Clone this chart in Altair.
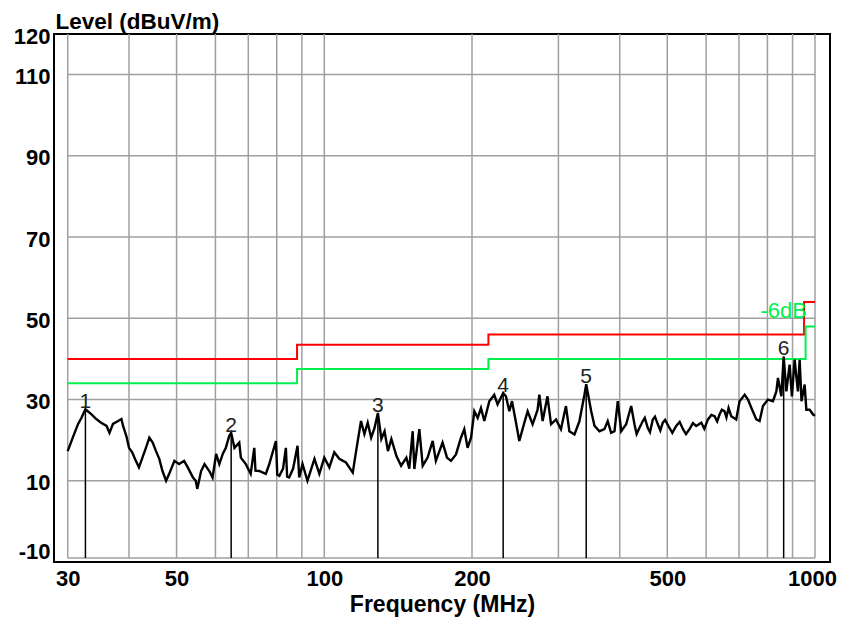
import altair as alt
import pandas as pd

# ---- data ----
FREQ = [30.0, 30.8, 31.5, 32.0, 32.6, 33.5, 34.3, 35.1, 36.0, 36.5, 37.1, 38.0, 38.6, 38.9, 39.5,
        40.0, 40.6, 41.3, 41.9, 42.6, 43.3, 44.0, 44.7, 45.4, 46.1, 46.8, 47.6, 48.3, 49.5, 50.6,
        51.8, 52.7, 54.0, 54.7, 55.1, 56.1, 57.0, 58.3, 59.2, 60.2, 61.1, 62.1, 63.0, 64.0, 64.6,
        65.6, 67.1, 67.6, 69.2, 70.8, 72.0, 72.4, 73.7, 76.0, 77.2, 79.7, 80.2, 81.0, 82.4, 83.5,
        84.0, 84.8, 86.4, 88.2, 88.9, 90.3, 92.4, 94.1, 95.5, 97.7, 100.0, 102.4, 104.8, 107.3,
        110.7, 114.3, 116.1, 118.8, 120.7, 122.6, 124.6, 126.6, 128.6, 130.7, 132.7, 134.8, 137.0,
        140.3, 143.4, 147.0, 149.0, 151.4, 152.6, 156.2, 158.7, 162.4, 166.3, 168.8, 174.2, 177.1,
        177.8, 181.2, 185.5, 189.9, 192.9, 195.9, 199.1, 202.2, 205.4, 208.6, 211.9, 216.9, 222.0,
        225.5, 231.5, 234.5, 238.3, 241.3, 245.9, 249.7, 255.7, 259.7, 265.8, 272.1, 274.3, 278.6,
        285.0, 289.8, 296.6, 303.6, 310.8, 315.8, 323.5, 331.1, 339.0, 341.8, 349.9, 355.4, 363.7,
        372.3, 378.1, 384.2, 390.3, 396.4, 402.8, 412.3, 422.1, 428.7, 433.0, 437.5, 445.8, 450.0,
        456.4, 461.0, 467.2, 472.0, 478.3, 484.0, 489.6, 495.0, 505.2, 512.0, 521.4, 530.0, 538.2,
        546.0, 555.0, 564.0, 572.7, 586.5, 595.0, 605.2, 615.0, 624.3, 632.0, 638.9, 646.0, 654.1,
        660.0, 666.6, 675.1, 690.9, 701.9, 719.0, 730.2, 742.1, 759.3, 771.2, 783.3, 801.9, 821.0,
        834.2, 840.5, 854.0, 863.3, 874.3, 887.7, 897.4, 908.8, 923.0, 930.5, 938.7, 952.6, 960.3,
        975.3, 991.3, 1000.0]
LEVEL = [17.3, 21.0, 24.0, 25.5, 27.6, 26.4, 25.2, 24.3, 23.5, 21.8, 24.0, 24.7, 25.2, 23.5, 21.0,
         18.1, 17.0, 14.9, 13.3, 15.7, 18.1, 20.6, 19.4, 17.3, 15.4, 12.4, 10.0, 11.7, 14.9, 14.1,
         14.9, 13.3, 10.8, 10.0, 8.0, 12.4, 14.1, 12.4, 10.8, 16.6, 14.1, 16.6, 18.1, 21.0, 21.8,
         18.1, 19.4, 15.7, 14.1, 11.7, 18.1, 12.5, 12.4, 11.7, 14.0, 19.8, 11.5, 11.2, 13.0, 18.1,
         11.0, 10.8, 13.0, 18.6, 10.8, 14.1, 10.0, 13.0, 15.4, 11.7, 15.7, 13.3, 17.0, 15.4,
         14.5, 12.0, 17.3, 24.7, 21.5, 24.3, 20.6, 23.0, 26.7, 20.3, 22.2, 17.3, 20.3,
         16.1, 13.7, 15.7, 13.0, 22.2, 12.9, 22.7, 13.7, 15.7, 19.8, 14.9, 19.4, 16.5,
         15.7, 14.9, 16.5, 20.6, 22.7, 18.1, 20.6, 27.1, 25.5, 27.9, 24.7, 29.6, 31.2,
         28.8, 31.6, 30.8, 27.1, 29.6, 24.3, 19.8, 24.3, 27.1, 23.9, 27.5, 31.2, 24.7,
         30.8, 23.9, 25.1, 22.7, 28.4, 22.2, 21.4, 24.7, 31.2, 33.8, 27.1, 23.5, 22.2,
         22.7, 24.7, 21.8, 22.2, 29.6, 22.2, 23.9, 28.4, 23.9, 21.5, 22.7, 24.7, 25.5,
         23.0, 22.0, 25.1, 25.8, 23.9, 22.4, 24.3, 25.0, 23.0, 21.8, 23.5, 24.5, 22.7,
         21.5, 22.7, 24.2, 23.5, 24.3, 22.8, 25.1, 26.2, 25.9, 24.6, 26.3, 27.5, 27.1,
         25.6, 27.9, 25.9, 25.1, 29.6, 31.2, 30.0, 27.9, 25.1, 24.7, 28.4, 30.0, 29.6,
         32.0, 35.3, 30.8, 40.6, 32.0, 38.6, 30.8, 39.8, 32.0, 39.8, 29.6, 33.7, 27.5,
         27.5, 26.3, 26.0]

MARK_FREQ = [32.6, 64.6, 128.6, 231.5, 341.8, 863.3]
MARK_LEVEL = [27.6, 21.8, 26.7, 31.6, 33.8, 40.6]
MARK_LABEL = ["1", "2", "3", "4", "5", "6"]

LIMIT_FREQ = [30, 88, 88, 216, 216, 950, 950, 1000]
LIMIT_LEVEL = [40, 40, 43.5, 43.5, 46, 46, 54, 54]
MARGIN_FREQ = [30, 88, 88, 216, 216, 957, 957, 1000]
MARGIN_LEVEL = [34, 34, 37.5, 37.5, 40, 40, 48, 48]
MARGIN_TEXT = ["-6dB"]
MARGIN_TEXT_FREQ = [963]
MARGIN_TEXT_LEVEL = [50]

X_GRID = [30, 40, 50, 60, 70, 80, 90, 100, 200, 300, 400, 500, 600, 700, 800, 900, 1000]
Y_GRID = [-9, 10, 30, 50, 70, 90, 110]
X_TICKS = [30, 50, 100, 200, 500, 1000]
# the bottom label "-10" sits a little above the frame in the reference
Y_TICKS = [-7, 10, 30, 50, 70, 90, 110, 120]
Y_BOTTOM, Y_TOP = -9, 120
F_MIN, F_MAX = 30, 1000

FONT = "Liberation Sans"
RED = "#ff0000"
GREEN = "#00f050"
GRID = "#a0a0a0"

xs = alt.Scale(type="log", domain=[28.13, 1073], nice=False)
ys = alt.Scale(domain=[-10, 120], nice=False, zero=False)

x_axis = alt.Axis(values=X_TICKS, format="d", grid=False, ticks=False, domain=False,
                  labelFont=FONT, labelFontWeight="bold", labelFontSize=22, labelColor="#000",
                  labelPadding=6, labelFlush=False, labelOverlap=False,
                  labelOffset={"condition": {"test": "datum.value == 1000", "value": -3}, "value": 0},
                  title="Frequency (MHz)", titleFont=FONT, titleFontWeight="bold",
                  titleFontSize=23, titleColor="#000", titleBaseline="alphabetic", titleY=49)
y_axis = alt.Axis(values=Y_TICKS, grid=False, ticks=False, domain=False,
                  labelExpr="datum.value == -7 ? '-10' : format(datum.value, 'd')",
                  labelFont=FONT, labelFontWeight="bold", labelFontSize=22, labelColor="#000",
                  labelPadding=4, labelOverlap=False, labelFlush=False, labelOffset=2,
                  title="Level (dBuV/m)", titleFont=FONT, titleFontWeight="bold",
                  titleFontSize=22.5, titleColor="#000", titleAngle=0, titleAlign="left",
                  titleBaseline="alphabetic", titleX=1, titleY=-6)

vgrid_df = pd.DataFrame({"f": X_GRID, "v": [Y_BOTTOM] * len(X_GRID), "v2": [Y_TOP] * len(X_GRID)})
hgrid_df = pd.DataFrame({"v": Y_GRID, "f": [F_MIN] * len(Y_GRID), "f2": [F_MAX] * len(Y_GRID)})
trace_df = pd.DataFrame({"f": FREQ, "v": LEVEL, "i": range(len(FREQ))})
limit_df = pd.DataFrame({"f": LIMIT_FREQ, "v": LIMIT_LEVEL, "i": range(len(LIMIT_FREQ))})
margin_df = pd.DataFrame({"f": MARGIN_FREQ, "v": MARGIN_LEVEL, "i": range(len(MARGIN_FREQ))})
mark_df = pd.DataFrame({"f": MARK_FREQ, "v": MARK_LEVEL, "lab": MARK_LABEL,
                        "b": [Y_BOTTOM] * len(MARK_FREQ)})
mtext_df = pd.DataFrame({"f": MARGIN_TEXT_FREQ, "v": MARGIN_TEXT_LEVEL, "t": MARGIN_TEXT})

X = alt.X("f:Q", scale=xs)
Y = alt.Y("v:Q", scale=ys)

vgrid = alt.Chart(vgrid_df).mark_rule(color=GRID, strokeWidth=1.5).encode(
    x=alt.X("f:Q", scale=xs, axis=x_axis),
    y=alt.Y("v:Q", scale=ys, axis=y_axis),
    y2="v2:Q",
)
hgrid = alt.Chart(hgrid_df).mark_rule(color=GRID, strokeWidth=1.5).encode(x=X, x2="f2:Q", y=Y)
limit = alt.Chart(limit_df).mark_line(color=RED, strokeWidth=2).encode(x=X, y=Y, order="i:Q")
margin = alt.Chart(margin_df).mark_line(color=GREEN, strokeWidth=2).encode(x=X, y=Y, order="i:Q")
mtext = alt.Chart(mtext_df).mark_text(color=GREEN, font=FONT, fontSize=22, align="right",
                                      baseline="alphabetic").encode(x=X, y=Y, text="t:N")
trace = alt.Chart(trace_df).mark_line(color="#000", strokeWidth=2.4,
                                      strokeJoin="miter").encode(x=X, y=Y, order="i:Q")
mrules = alt.Chart(mark_df).mark_rule(color="#000", strokeWidth=1.5).encode(x=X, y=Y, y2="b:Q")
mlabels = alt.Chart(mark_df).mark_text(color="#222", font=FONT, fontSize=21,
                                       baseline="alphabetic", dy=-1).encode(x=X, y=Y, text="lab:N")

chart = alt.layer(vgrid, hgrid, limit, margin, mtext, trace, mrules, mlabels).properties(
    width=776, height=528,
    padding={"left": 46, "top": 26, "right": 7, "bottom": 55},
    autosize=alt.AutoSizeParams(type="none"),
    background="white",
).configure_view(stroke="#000", strokeWidth=2)

chart.save("out.html", embed_options={"renderer": "svg", "actions": False})
